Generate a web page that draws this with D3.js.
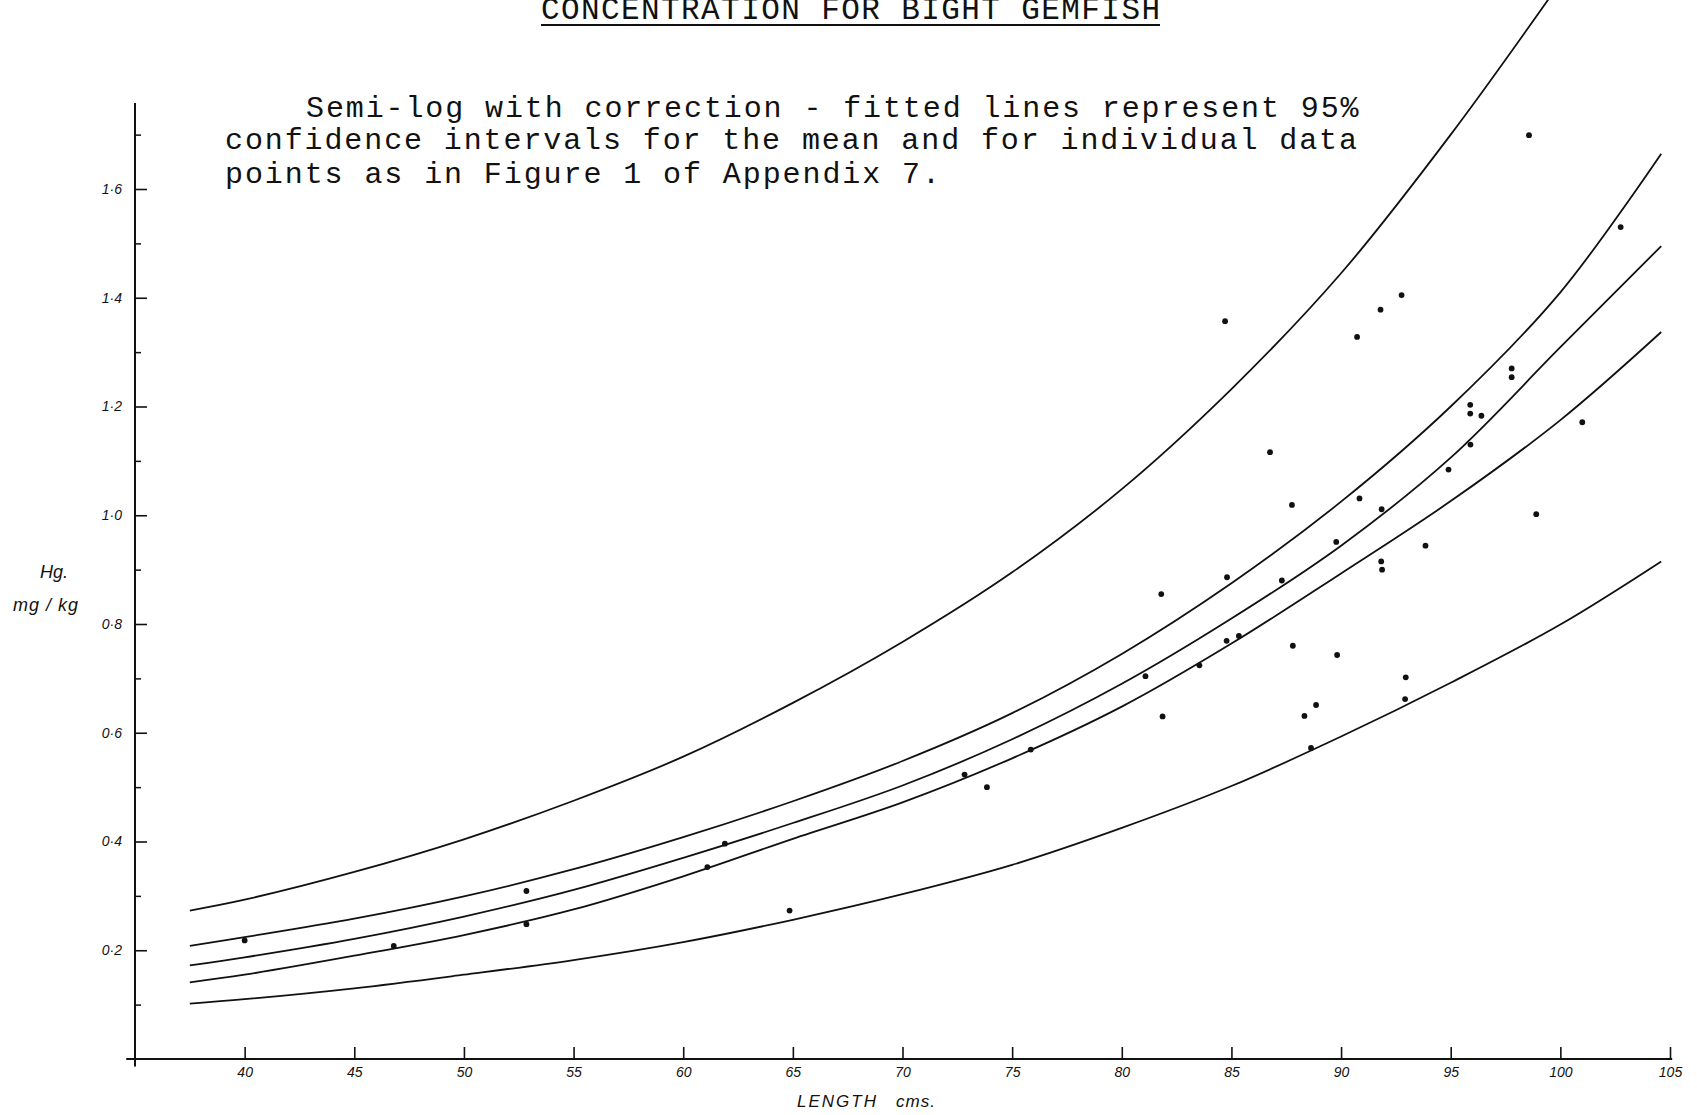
<!DOCTYPE html>
<html>
<head>
<meta charset="utf-8">
<script src="https://cdn.jsdelivr.net/npm/d3@7"></script>
<style>
  body { margin: 0; background: #fff; }
  .mono { font-family: 'Liberation Mono', 'Courier New', monospace; fill: #111; }
  .lbl { font-family: 'Liberation Sans', Arial, sans-serif; font-style: italic; fill: #111; }
</style>
</head>
<body>
<svg id="canvas" width="1697" height="1115"></svg>
<script>
// fish data: length (cm) and Hg (mg/kg)
let lengths = [40, 46.8, 52.85, 52.85, 61.1, 61.9, 64.85, 72.83, 73.85, 75.85, 81.08, 81.8, 81.86,
  83.54, 84.71, 84.8, 84.78, 85.34, 86.76, 87.3, 87.76, 87.8, 88.33, 88.63, 88.86, 89.78, 89.82,
  90.73, 90.84, 91.8, 91.85, 91.83, 91.87, 92.76, 92.95, 92.92, 93.85, 94.9, 95.89, 95.89, 95.9,
  96.4, 97.78, 97.78, 98.57, 98.9, 101.0, 102.75];
let hgValues = [0.218, 0.208, 0.309, 0.248, 0.353, 0.396, 0.273, 0.523, 0.5, 0.569, 0.704, 0.855, 0.63,
  0.724, 1.357, 0.886, 0.769, 0.778, 1.116, 0.88, 1.019, 0.76, 0.631, 0.572, 0.651, 0.951, 0.743,
  1.328, 1.031, 1.378, 1.011, 0.915, 0.9, 1.405, 0.702, 0.662, 0.944, 1.084, 1.203, 1.187, 1.13,
  1.183, 1.27, 1.254, 1.699, 1.002, 1.171, 1.53];

// fitted line and 95% intervals
let curveLengths = [37.5, 40, 45, 50, 55, 60, 65, 70, 75, 80, 85, 90, 95, 100, 104.6];
let upperPred = [0.273, 0.293, 0.344, 0.404, 0.475, 0.556, 0.655, 0.767, 0.895, 1.048, 1.232, 1.445, 1.70, 1.98, null];
let upperMean = [0.208, 0.224, 0.258, 0.299, 0.349, 0.408, 0.474, 0.548, 0.636, 0.745, 0.875, 1.025, 1.20, 1.41, 1.665];
let fitted = [0.172, 0.187, 0.221, 0.262, 0.311, 0.37, 0.434, 0.503, 0.588, 0.69, 0.81, 0.944, 1.106, 1.309, 1.495];
let lowerMean = [0.141, 0.155, 0.19, 0.228, 0.275, 0.336, 0.405, 0.472, 0.553, 0.648, 0.764, 0.893, 1.026, 1.175, 1.337];
let lowerPred = [0.102, 0.11, 0.13, 0.155, 0.182, 0.215, 0.256, 0.303, 0.357, 0.425, 0.502, 0.593, 0.692, 0.799, 0.915];

let xTicks = [40, 45, 50, 55, 60, 65, 70, 75, 80, 85, 90, 95, 100, 105];
let yTicks = [0.2, 0.4, 0.6, 0.8, 1.0, 1.2, 1.4, 1.6];
let yMinorTicks = [0.1, 0.3, 0.5, 0.7, 0.9, 1.1, 1.3, 1.5, 1.7];

let titleText = 'CONCENTRATION FOR BIGHT GEMFISH';
let noteLines = [
  'Semi-log with correction - fitted lines represent 95%',
  'confidence intervals for the mean and for individual data',
  'points as in Figure 1 of Appendix 7.'
];

let canvas = d3.select('#canvas');

let xScale = d3.scaleLinear().domain([35, 105]).range([135, 1670]);
let yScale = d3.scaleLinear().domain([0, 1.6]).range([1059, 189]);

// axes lines (they cross at the origin like a "+")
canvas.append('line')
  .attr('x1', xScale(35)).attr('x2', xScale(35))
  .attr('y1', yScale(1.758)).attr('y2', yScale(-0.014))
  .attr('stroke', '#111').attr('stroke-width', 2);
canvas.append('line')
  .attr('x1', xScale(34.6)).attr('x2', xScale(105.1))
  .attr('y1', yScale(0)).attr('y2', yScale(0))
  .attr('stroke', '#111').attr('stroke-width', 2);

let xAxis = d3.axisBottom(xScale)
  .tickValues(xTicks)
  .tickSize(-12)
  .tickSizeOuter(0)
  .tickPadding(8)
  .tickFormat(d => d);

let xg = canvas.append('g')
  .attr('transform', `translate(0, ${yScale(0)})`)
  .call(xAxis);
xg.select('.domain').remove();
xg.selectAll('line').attr('stroke', '#111').attr('stroke-width', 1.6);
xg.selectAll('text')
  .attr('class', 'lbl')
  .attr('font-size', 14)
  .attr('font-family', null);

let yAxis = d3.axisLeft(yScale)
  .tickValues(yTicks)
  .tickSize(-12)
  .tickSizeOuter(0)
  .tickPadding(13)
  .tickFormat(d => d3.format('.1f')(d).replace('.', '·'));

let yg = canvas.append('g')
  .attr('transform', `translate(${xScale(35)}, 0)`)
  .call(yAxis);
yg.select('.domain').remove();
yg.selectAll('line').attr('stroke', '#111').attr('stroke-width', 1.6);
yg.selectAll('text')
  .attr('class', 'lbl')
  .attr('font-size', 14)
  .attr('font-family', null);

let yMinor = d3.axisLeft(yScale)
  .tickValues(yMinorTicks)
  .tickSize(-6)
  .tickSizeOuter(0)
  .tickFormat('');

let ymg = canvas.append('g')
  .attr('transform', `translate(${xScale(35)}, 0)`)
  .call(yMinor);
ymg.select('.domain').remove();
ymg.selectAll('line').attr('stroke', '#111').attr('stroke-width', 1.5);

// curves
let line = d3.line()
  .defined(d => d[1] !== null)
  .x(d => xScale(d[0]))
  .y(d => yScale(d[1]))
  .curve(d3.curveCatmullRom.alpha(0.5));

let curves = [upperPred, upperMean, fitted, lowerMean, lowerPred];

canvas.selectAll('path.fit')
  .data(curves)
  .enter()
  .append('path')
  .attr('class', 'fit')
  .attr('d', vals => line(curveLengths.map((l, i) => [l, vals[i]])))
  .attr('fill', 'none')
  .attr('stroke', '#111')
  .attr('stroke-width', 1.8);

// points
canvas.selectAll('circle')
  .data(lengths)
  .enter()
  .append('circle')
  .attr('cx', (d) => xScale(d))
  .attr('cy', (d, i) => yScale(hgValues[i]))
  .attr('r', 2.9)
  .attr('fill', '#111');

// title (cut at top of page, as in the scan) with underline
canvas.append('text')
  .attr('class', 'mono')
  .attr('x', 541).attr('y', 19)
  .attr('font-size', 31)
  .attr('textLength', 619)
  .attr('lengthAdjust', 'spacing')
  .text(titleText);
canvas.append('line')
  .attr('x1', 541).attr('x2', 1160)
  .attr('y1', 25).attr('y2', 25)
  .attr('stroke', '#111').attr('stroke-width', 2);

// typed note
let noteX = [306, 225, 225];
let noteY = [117, 149, 183];
canvas.selectAll('text.note')
  .data(noteLines)
  .enter()
  .append('text')
  .attr('class', 'mono note')
  .attr('x', (d, i) => noteX[i])
  .attr('y', (d, i) => noteY[i])
  .attr('font-size', 30)
  .attr('textLength', d => d.length * 19.86)
  .attr('lengthAdjust', 'spacing')
  .text(d => d);

// axis titles
canvas.append('text')
  .attr('class', 'lbl')
  .attr('x', 797).attr('y', 1107)
  .attr('font-size', 17)
  .attr('letter-spacing', 2)
  .text('LENGTH');
canvas.append('text')
  .attr('class', 'lbl')
  .attr('x', 896).attr('y', 1107)
  .attr('font-size', 17)
  .attr('letter-spacing', 1)
  .text('cms.');

canvas.append('text')
  .attr('class', 'lbl')
  .attr('x', 40).attr('y', 578)
  .attr('font-size', 18)
  .text('Hg.');
canvas.append('text')
  .attr('class', 'lbl')
  .attr('x', 13).attr('y', 611)
  .attr('font-size', 18)
  .attr('letter-spacing', 1)
  .text('mg / kg');
</script>
</body>
</html>
